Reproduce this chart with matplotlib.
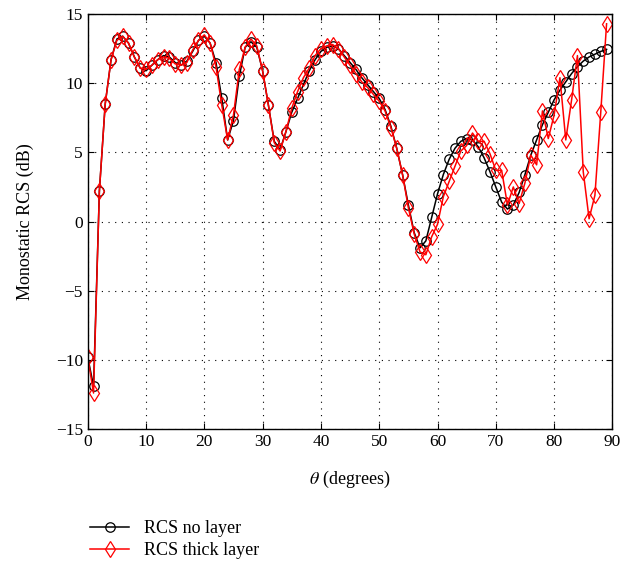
import numpy as np
import matplotlib.pyplot as plt

# monostatic RCS vs angle
theta = list(range(90))

rcs_no_layer = [
    -9.8, -11.9, 2.2, 8.5, 11.7, 13.2, 13.4, 12.9, 11.9, 11.1,
    10.9, 11.3, 11.7, 12.0, 11.9, 11.5, 11.3, 11.6, 12.3, 13.1,
    13.4, 12.9, 11.5, 8.9, 5.9, 7.3, 10.5, 12.6, 13.0, 12.6,
    10.9, 8.4, 5.8, 5.2, 6.5, 7.9, 8.9, 9.9, 10.9, 11.7,
    12.3, 12.6, 12.7, 12.5, 12.0, 11.5, 11.0, 10.4, 9.9, 9.4,
    8.9, 8.1, 6.9, 5.3, 3.4, 1.2, -0.8, -1.9, -1.4, 0.3,
    2.0, 3.4, 4.5, 5.3, 5.8, 6.0, 5.9, 5.4, 4.6, 3.6,
    2.5, 1.4, 0.9, 1.2, 2.1, 3.4, 4.8, 5.9, 7.0, 7.9,
    8.8, 9.5, 10.1, 10.7, 11.2, 11.6, 11.9, 12.1, 12.3, 12.45,
]

rcs_thick_layer = [
    -9.8, -12.4, 2.2, 8.5, 11.7, 13.1, 13.4, 12.9, 11.9, 11.1,
    11.0, 11.3, 11.7, 11.9, 11.8, 11.4, 11.3, 11.5, 12.4, 13.1,
    13.5, 12.9, 11.2, 8.4, 5.9, 7.7, 11.0, 12.6, 13.2, 12.7,
    10.9, 8.4, 5.7, 5.1, 6.5, 8.2, 9.4, 10.4, 11.1, 12.0,
    12.5, 12.7, 12.8, 12.5, 11.9, 11.3, 10.7, 10.1, 9.7, 9.2,
    8.7, 8.0, 6.8, 5.3, 3.4, 1.0, -0.9, -2.2, -2.4, -1.1,
    -0.2, 1.8, 2.9, 4.0, 5.1, 5.5, 6.4, 5.8, 5.8, 4.9,
    3.7, 3.7, 1.2, 2.5, 1.3, 2.8, 4.8, 4.1, 8.0, 6.0,
    7.7, 10.4, 5.9, 8.8, 12.0, 3.6, 0.2, 1.9, 7.9, 14.3,
]

plt.rcParams['font.family'] = ['Liberation Serif', 'DejaVu Serif']
plt.rcParams['mathtext.fontset'] = 'stix'

fig = plt.figure(figsize=(6.23, 5.64), dpi=100)
ax = fig.add_axes([0.1408, 0.2394, 0.983 - 0.1408, 0.975 - 0.2394])

ax.plot(theta, rcs_no_layer, color='black', lw=1.1, marker='o',
        markersize=6.8, markerfacecolor='none', markeredgewidth=0.9,
        label='RCS no layer')
ax.plot(theta, rcs_thick_layer, color='red', lw=1.1, marker='d',
        markersize=8.5, markerfacecolor='none', markeredgewidth=0.9,
        label='RCS thick layer')

ax.set_xlim(0, 90)
ax.set_ylim(-15, 15)
ax.set_xticks(np.arange(0, 91, 10))
ax.set_yticks(np.arange(-15, 16, 5))
ax.tick_params(direction='in', top=True, right=True, labelsize=12.5,
               length=4, width=0.8)
ax.grid(True, color='black', linestyle=(0, (1, 5)), linewidth=0.8)
for s in ax.spines.values():
    s.set_linewidth(1.0)

ax.set_xlabel(r'$\theta$ (degrees)', fontsize=13, labelpad=14)
ax.set_ylabel('Monostatic RCS (dB)', fontsize=13, labelpad=16)

fig.legend(loc='upper left', bbox_to_anchor=(0.118, 0.107),
           frameon=False, fontsize=13, handlelength=2.2,
           labelspacing=0.3, handletextpad=0.8)

fig.savefig('out.png', dpi=100)
